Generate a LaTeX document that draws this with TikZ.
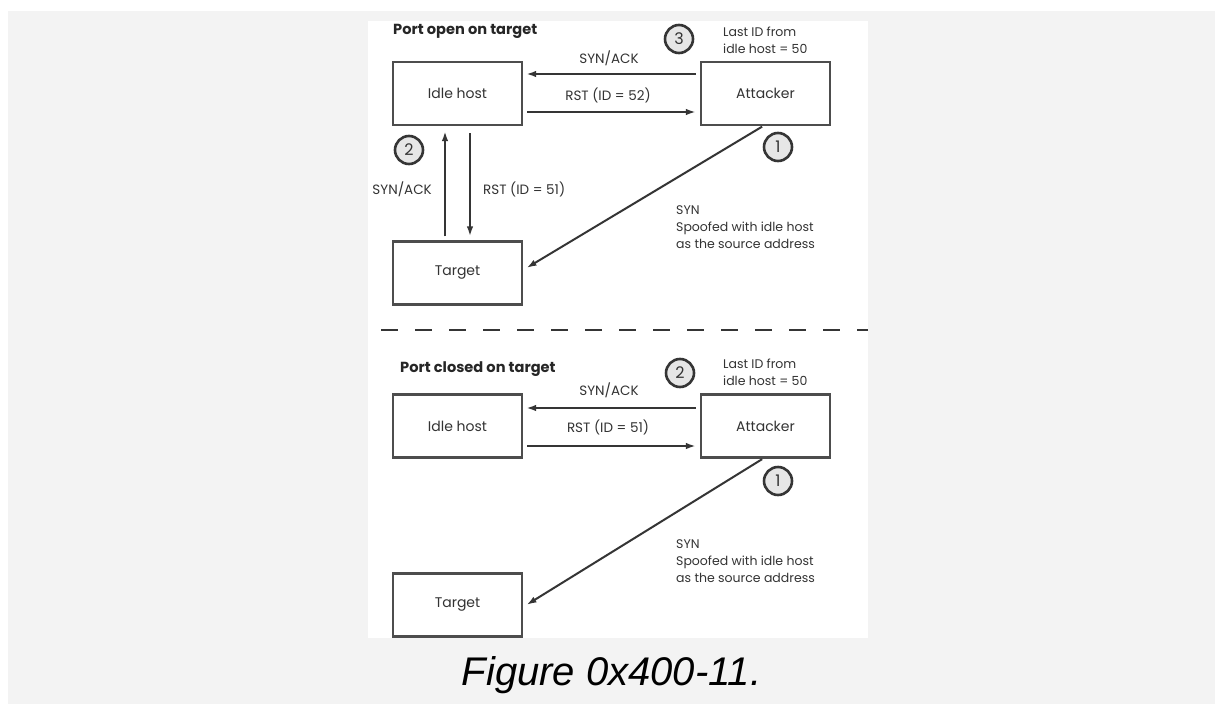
\documentclass[tikz,border=0pt]{standalone}
\usepackage{fontspec}
\setmainfont{Poppins}
\newfontfamily\capfont{Liberation Sans}
\usetikzlibrary{arrows.meta}
\definecolor{bg}{HTML}{F3F3F3}
\definecolor{ln}{HTML}{353535}
\definecolor{bx}{HTML}{4D4D4D}
\definecolor{tx}{HTML}{333333}
\definecolor{cf}{HTML}{E6E6E6}
\begin{document}
\begin{tikzpicture}[x=1pt,y=-1pt,
  box/.style={draw=bx,line width=2.2pt,minimum width=129pt,minimum height=63pt,inner sep=0pt,font=\fontsize{14}{16}\selectfont,text=tx},
  arr/.style={draw=ln,line width=2pt,-{Latex[length=10pt,width=6.5pt]}},
  num/.style={circle,draw=ln,line width=2.6pt,fill=cf,minimum size=28pt,inner sep=0pt,font=\fontsize{16}{18}\selectfont,text=tx},
  lbl/.style={font=\fontsize{13.5}{17}\selectfont,text=tx,inner sep=0pt},
  note/.style={font=\fontsize{12.5}{17}\selectfont,text=tx,inner sep=0pt,align=left},
  ttl/.style={font=\fontsize{14.6}{16}\selectfont\bfseries,text=black!85,inner sep=0pt}]
\useasboundingbox (0,0) rectangle (1215,704);
\fill[white] (0,0) rectangle (1215,704);
\fill[bg] (8,11) rectangle (1215,704);
\fill[white] (368,21) rectangle (868,638);

% ---- top: port open
\node[ttl,anchor=west] (t1) at (393,31) {Port open on target};
\node[box] (idle1) at (457.5,93.5) {Idle host};
\node[box] (att1) at (765.5,93.5) {Attacker};
\node[box] (tgt1) at (457.5,273) {Target};

\draw[arr,shorten <=4pt,shorten >=3pt] ([yshift=19.5pt]att1.west) -- ([yshift=19.5pt]idle1.east);
\draw[arr,shorten <=4pt,shorten >=4pt] ([yshift=-18.5pt]idle1.east) -- ([yshift=-18.5pt]att1.west);
\draw[arr,shorten <=4pt,shorten >=5pt] ([xshift=-12.5pt]tgt1.north) -- ([xshift=-12.5pt]idle1.south);
\draw[arr,shorten <=7pt,shorten >=4pt] ([xshift=12.5pt]idle1.south) -- ([xshift=12.5pt]tgt1.north);
\draw[arr,shorten <=1pt,shorten >=4pt] ([xshift=-2.5pt]att1.south) -- ([yshift=3pt]tgt1.east);

\node[lbl] (l1) at (609,58) {SYN/ACK};
\node[lbl] (l2) at (608,95) {RST (ID = 52)};
\node[lbl,anchor=east] (l3) at (432,189) {SYN/ACK};
\node[lbl,anchor=west] (l4) at (483,189) {RST (ID = 51)};
\node[note,anchor=west] (l5) at (723,40) {Last ID from\\idle host = 50};
\node[note,anchor=west] (l6) at (676,227.5) {SYN\\Spoofed with idle host\\as the source address};

\node[num] (c3) at (679,39) {3};
\node[num] (c1a) at (778,147) {1};
\node[num] (c2a) at (409,150) {2};

% ---- separator
\coordinate (sepL) at (381,330);
\coordinate (sepR) at (868,330);
\draw[ln,line width=2pt,dash pattern=on 17pt off 17pt] (sepL) -- (sepR);

% ---- bottom: port closed
\node[ttl,anchor=west] (t2) at (400,369) {Port closed on target};
\node[box] (idle2) at (457.5,426) {Idle host};
\node[box] (att2) at (765.5,426) {Attacker};
\node[box] (tgt2) at (457.5,605) {Target};

\draw[arr,shorten <=4pt,shorten >=3pt] ([yshift=18pt]att2.west) -- ([yshift=18pt]idle2.east);
\draw[arr,shorten <=4pt,shorten >=4pt] ([yshift=-20pt]idle2.east) -- ([yshift=-20pt]att2.west);
\draw[arr,shorten <=1pt,shorten >=4pt] ([xshift=-2.5pt]att2.south) -- ([yshift=-2pt]tgt2.east);

\node[lbl] (m1) at (609,390) {SYN/ACK};
\node[lbl] (m2) at (608,427) {RST (ID = 51)};
\node[note,anchor=west] (m5) at (723,372.5) {Last ID from\\idle host = 50};
\node[note,anchor=west] (m6) at (676,561) {SYN\\Spoofed with idle host\\as the source address};

\node[num] (c2b) at (680,373) {2};
\node[num] (c1b) at (778,481) {1};

% ---- caption
\node[font=\capfont\itshape\fontsize{40}{44}\selectfont,anchor=base,inner sep=0pt] (cap) at (611.5,685) {Figure 0x400-11.};
\end{tikzpicture}
\end{document}
